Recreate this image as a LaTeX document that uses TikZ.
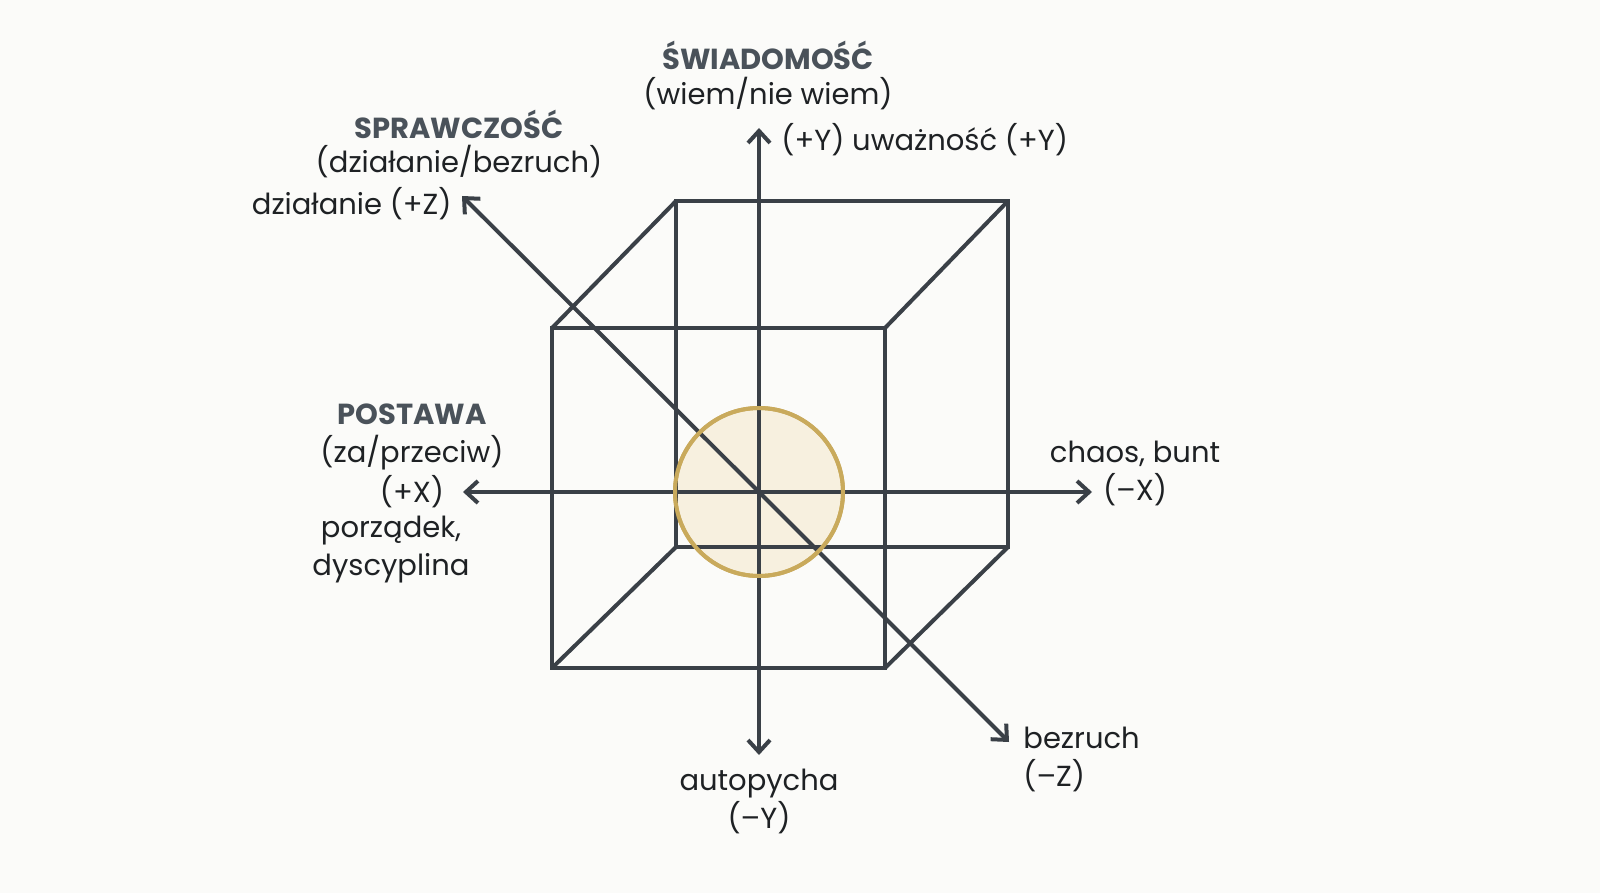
\documentclass[tikz,border=0pt]{standalone}
\usepackage{fontspec}
\setmainfont{Poppins}
\usetikzlibrary{arrows.meta}
\definecolor{bg}{HTML}{FBFBF9}
\definecolor{ln}{HTML}{3A4047}
\definecolor{hd}{HTML}{4A525A}
\definecolor{tx}{HTML}{1E2124}
\definecolor{cfill}{HTML}{F7F0DF}
\definecolor{cstroke}{HTML}{C9AA5C}
\tikzset{
  edge/.style={draw=ln, line width=2pt, line join=miter},
  axis/.style={draw=ln, line width=2pt, -{Straight Barb[length=6pt,width=11pt,line width=2pt]}},
  lbl/.style={text=tx, font=\fontsize{14.5}{19}\selectfont, inner sep=0pt, align=center},
  hdl/.style={text=hd, font=\fontsize{14.5}{19}\selectfont\bfseries, inner sep=0pt, align=center},
}
\begin{document}
\begin{tikzpicture}[x=0.5pt,y=-0.5pt]
\fill[bg] (0,0) rectangle (1600,893);
\useasboundingbox (0,0) rectangle (1600,893);
% circle (under the lines)
\node[circle, minimum size=84pt, inner sep=0pt, fill=cfill, draw=cstroke, line width=2pt] (core) at (759,492) {};
% cube
\coordinate (f1) at (552,328); \coordinate (f2) at (885,328);
\coordinate (f3) at (885,668); \coordinate (f4) at (552,668);
\coordinate (b1) at (676,201); \coordinate (b2) at (1008,201);
\coordinate (b3) at (1008,547); \coordinate (b4) at (676,547);
\draw[edge] (b1) -- (b2) -- (b3) -- (b4) -- cycle;
\draw[edge] (f1) -- (f2) -- (f3) -- (f4) -- cycle;
\draw[edge] (f1) -- (b1); \draw[edge] (f2) -- (b2);
\draw[edge] (f3) -- (b3); \draw[edge] (f4) -- (b4);
% axes
\coordinate (o) at (759,492);
\coordinate (yp) at (759,128); \coordinate (yn) at (759,755);
\coordinate (xp) at (463,492); \coordinate (xn) at (1092,492);
\coordinate (zp) at (462,196); \coordinate (zn) at (1009,742);
\draw[axis] (o) -- (yp);
\draw[axis] (o) -- (yn);
\draw[axis] (o) -- (xp);
\draw[axis] (o) -- (xn);
\draw[axis] (o) -- (zp);
\draw[axis] (o) -- (zn);
% circle outline again on top, as in the reference
\draw[cstroke, line width=2pt] (core.center) circle[radius=42pt];
% labels
\node[hdl] (sw) at (768,55) {ŚWIADOMOŚĆ};
\node[lbl] (swd) at (768,94) {(wiem/nie wiem)};
\node[lbl, anchor=west] (ypl) at (781,140) {(+Y) uważność (+Y)};
\node[hdl] (sp) at (459,124) {SPRAWCZOŚĆ};
\node[lbl] (spd) at (459,162) {(działanie/bezruch)};
\node[lbl, anchor=east] (zpl) at (452,204) {działanie (+Z)};
\node[hdl] (po) at (412,414) {POSTAWA};
\node[lbl] (pod) at (412,453) {(za/przeciw)};
\node[lbl] (xpl) at (412,492) {(+X)};
\node[lbl] (xpd) at (391,550) {porządek,\\dyscyplina};
\node[lbl] (xnl) at (1135,473) {chaos, bunt\\(–X)};
\node[lbl] (ynl) at (759,801) {autopycha\\(–Y)};
\node[lbl, align=left, anchor=west] (znl) at (1023,759) {bezruch\\(–Z)};
\end{tikzpicture}
\end{document}
